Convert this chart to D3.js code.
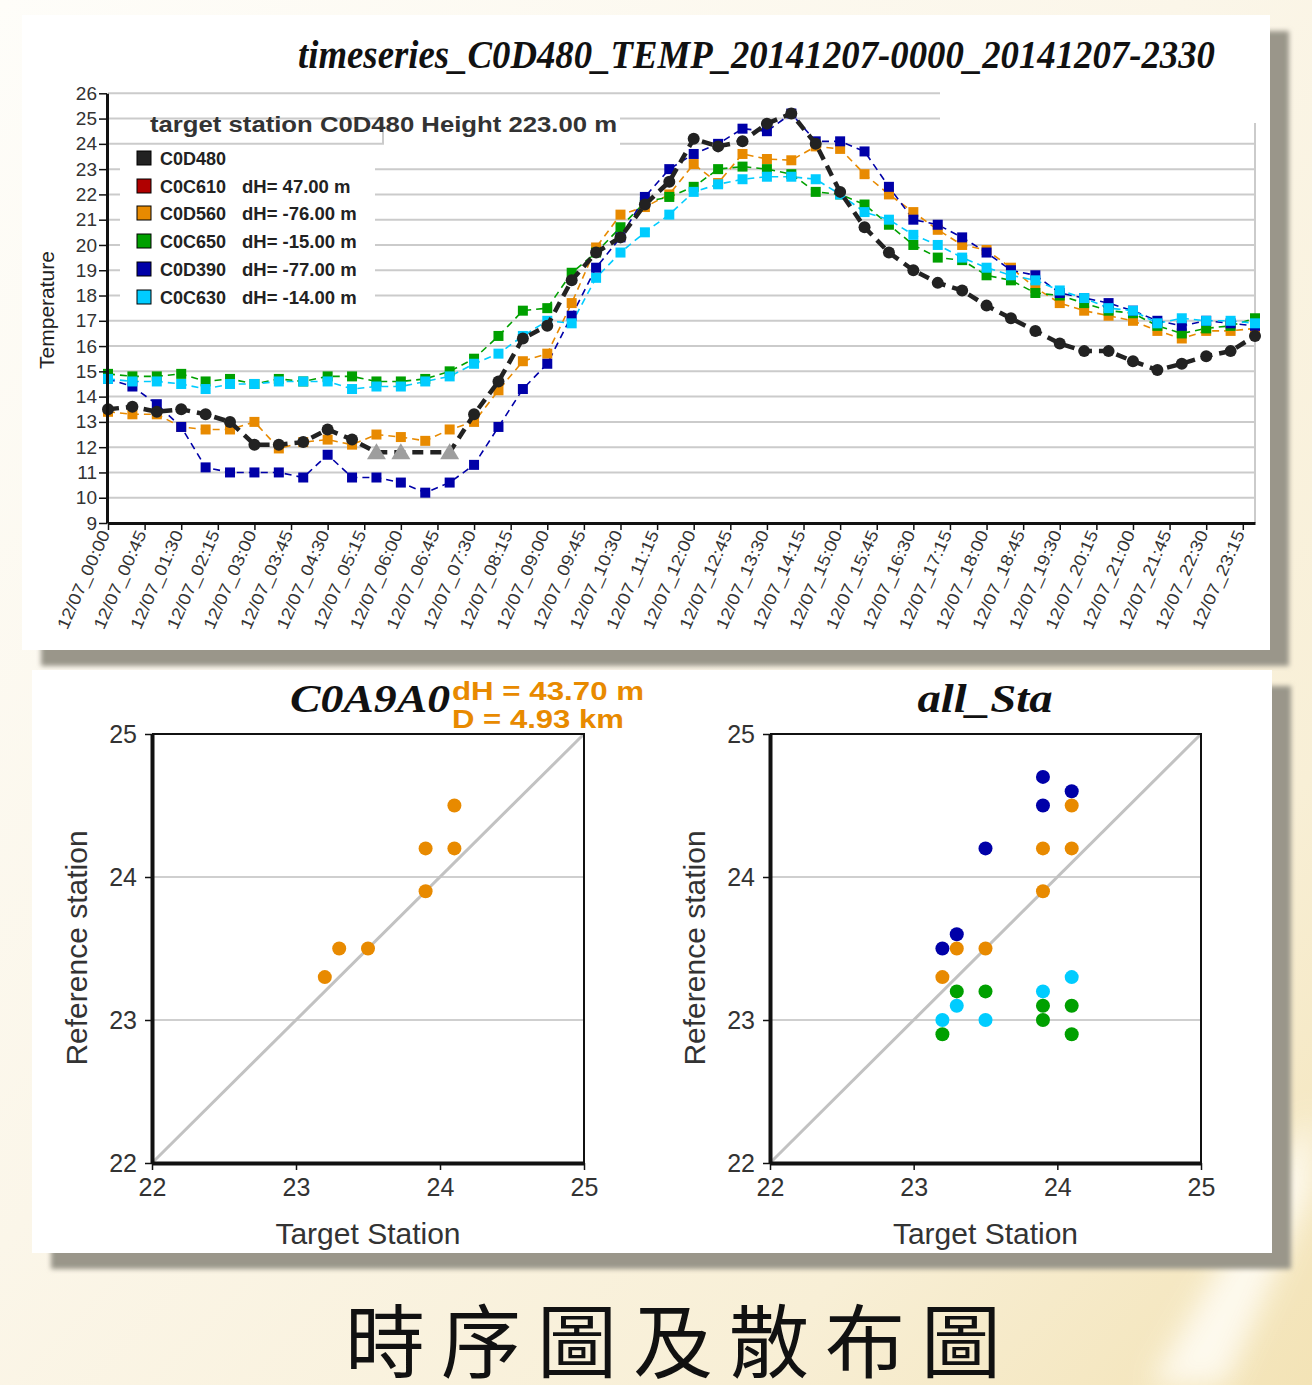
<!DOCTYPE html>
<html>
<head>
<meta charset="utf-8">
<script src="https://cdn.jsdelivr.net/npm/d3@7"></script>
<style>
  html, body { margin: 0; padding: 0; overflow: hidden; background: #fbf6e8; }
  svg { display: block; }
</style>
</head>
<body>
<svg id="chart" width="1312" height="1385"></svg>
<script>
// ---------- time series data (half-hourly, 2014-12-07) ----------
const times = ["00:00","00:30","01:00","01:30","02:00","02:30","03:00","03:30","04:00","04:30",
  "05:00","05:30","06:00","06:30","07:00","07:30","08:00","08:30","09:00","09:30",
  "10:00","10:30","11:00","11:30","12:00","12:30","13:00","13:30","14:00","14:30",
  "15:00","15:30","16:00","16:30","17:00","17:30","18:00","18:30","19:00","19:30",
  "20:00","20:30","21:00","21:30","22:00","22:30","23:00","23:30"];

const tickLabels = ["12/07_00:00","12/07_00:45","12/07_01:30","12/07_02:15","12/07_03:00","12/07_03:45",
  "12/07_04:30","12/07_05:15","12/07_06:00","12/07_06:45","12/07_07:30","12/07_08:15","12/07_09:00",
  "12/07_09:45","12/07_10:30","12/07_11:15","12/07_12:00","12/07_12:45","12/07_13:30","12/07_14:15",
  "12/07_15:00","12/07_15:45","12/07_16:30","12/07_17:15","12/07_18:00","12/07_18:45","12/07_19:30",
  "12/07_20:15","12/07_21:00","12/07_21:45","12/07_22:30","12/07_23:15"];

const tempTicks = [9,10,11,12,13,14,15,16,17,18,19,20,21,22,23,24,25,26];

const stationNames  = ["C0D480","C0C610","C0D560","C0C650","C0D390","C0C630"];
const stationDH     = ["","dH= 47.00 m","dH= -76.00 m","dH= -15.00 m","dH= -77.00 m","dH= -14.00 m"];
const stationColors = ["#222222","#b00000","#e88a00","#00a000","#0000a8","#00ccff"];

// target station
const C0D480 = [13.5,13.6,13.4,13.5,13.3,13.0,12.1,12.1,12.2,12.7,12.3,11.8,11.8,11.8,11.8,13.3,
  14.6,16.3,16.8,18.6,19.7,20.3,21.6,22.5,24.2,23.9,24.1,24.8,25.2,24.0,22.1,20.7,
  19.7,19.0,18.5,18.2,17.6,17.1,16.6,16.1,15.8,15.8,15.4,15.05,15.3,15.6,15.8,16.4];
// filled-in values of the target station (grey triangles) and a point with no marker
const C0D480Filled = [11,12,14];
const C0D480NoMark = [13];

const C0C610 = [];
const C0D560 = [13.4,13.3,13.3,12.8,12.7,12.7,13.0,11.95,12.2,12.3,12.1,12.5,12.4,12.25,12.7,13.0,
  14.25,15.4,15.7,17.7,19.9,21.2,21.5,22.0,23.2,22.45,23.6,23.4,23.35,23.9,23.8,22.8,
  22.0,21.3,20.6,20.0,19.8,19.1,18.3,17.7,17.4,17.2,17.0,16.6,16.3,16.6,16.6,16.7];
const C0C650 = [14.9,14.8,14.8,14.9,14.6,14.7,14.5,14.7,14.6,14.8,14.8,14.6,14.6,14.7,15.0,15.5,
  16.4,17.4,17.5,18.9,19.7,20.7,21.7,21.9,22.3,23.0,23.1,23.0,22.8,22.1,22.0,21.6,
  20.8,20.0,19.5,19.4,18.8,18.6,18.1,18.0,17.7,17.4,17.3,16.8,16.5,16.7,16.8,17.1];
const C0D390 = [14.7,14.4,13.7,12.8,11.2,11.0,11.0,11.0,10.8,11.7,10.8,10.8,10.6,10.2,10.6,11.3,
  12.8,14.3,15.3,17.2,19.1,20.3,21.9,23.0,23.6,24.0,24.6,24.5,25.2,24.1,24.1,23.7,
  22.3,21.0,20.8,20.3,19.7,19.0,18.8,18.1,17.9,17.7,17.4,17.0,16.8,17.0,16.9,16.8];
const C0C630 = [14.7,14.6,14.6,14.5,14.3,14.5,14.5,14.6,14.6,14.6,14.3,14.4,14.4,14.6,14.8,15.3,
  15.7,16.4,17.0,16.9,18.7,19.7,20.5,21.2,22.1,22.4,22.6,22.7,22.7,22.6,22.0,21.3,
  21.0,20.4,20.0,19.5,19.1,18.8,18.6,18.2,17.9,17.5,17.4,16.9,17.1,17.0,17.0,16.9];

// ---------- scatter data ----------
const scatterTicks = [22,23,24,25];
// C0A9A0 vs target
const c0a9a0Target = [23.2,23.3,23.5,23.9,23.9,24.1,24.1];
const c0a9a0Ref    = [23.3,23.5,23.5,23.9,24.2,24.2,24.5];
// all stations vs target
const allBlueX   = [23.2,23.3,23.5,23.9,23.9,24.1];
const allBlueY   = [23.5,23.6,24.2,24.7,24.5,24.6];
const allOrangeX = [23.2,23.3,23.5,23.9,23.9,24.1,24.1];
const allOrangeY = [23.3,23.5,23.5,23.9,24.2,24.2,24.5];
const allGreenX  = [23.2,23.3,23.5,23.9,23.9,24.1,24.1];
const allGreenY  = [22.9,23.2,23.2,23.1,23.0,23.1,22.9];
const allCyanX   = [23.2,23.3,23.5,23.9,24.1];
const allCyanY   = [23.0,23.1,23.0,23.2,23.3];

// ---------- page ----------
const W = 1312, H = 1385;
const svg = d3.select("#chart");
const defs = svg.append("defs");

const bg = defs.append("linearGradient").attr("id","bg")
  .attr("x1",0).attr("y1",0).attr("x2",1).attr("y2",1);
[["0","#fefdf9"],["0.45","#fbf6e9"],["0.78","#f8efd6"],["1","#f3e3b6"]]
  .forEach(s => bg.append("stop").attr("offset",s[0]).attr("stop-color",s[1]));
defs.append("filter").attr("id","shadowBlur")
  .attr("x","-5%").attr("y","-5%").attr("width","110%").attr("height","110%")
  .append("feGaussianBlur").attr("stdDeviation",2.5);
defs.append("filter").attr("id","rayBlur")
  .attr("x","-50%").attr("y","-50%").attr("width","200%").attr("height","200%")
  .append("feGaussianBlur").attr("stdDeviation",14);

svg.append("rect").attr("width",W).attr("height",H).attr("fill","url(#bg)");
svg.append("path").attr("d","M1312,1110 L1312,1190 L1225,1385 L1150,1385 Z")
  .attr("fill","#fffdf6").attr("opacity",0.85).attr("filter","url(#rayBlur)");

function panel(px, py, pw, ph) {
  svg.append("rect").attr("x",px+19).attr("y",py+16).attr("width",pw).attr("height",ph)
    .attr("fill","#9a968a").attr("filter","url(#shadowBlur)");
  svg.append("rect").attr("x",px).attr("y",py).attr("width",pw).attr("height",ph).attr("fill","#ffffff");
}
panel(22, 15, 1248, 635);
panel(32, 670, 1240, 583);

// ---------- time series chart ----------
const toMin = s => +s.slice(-5,-3) * 60 + +s.slice(-2);
const x = d3.scaleLinear().domain([0, 1410]).range([108, 1255]);
const y = d3.scaleLinear().domain([9, 26]).range([523, 93.3]);
const ts = svg.append("g");

ts.append("text").attr("x",298).attr("y",68)
  .attr("font-family","Liberation Serif").attr("font-weight","bold").attr("font-style","italic")
  .attr("font-size",40).attr("textLength",917).attr("lengthAdjust","spacingAndGlyphs").attr("fill","#111")
  .text("timeseries_C0D480_TEMP_20141207-0000_20141207-2330");

// horizontal grid
ts.append("g").selectAll("line").data(tempTicks.filter(t => t > 9)).join("line")
  .attr("x1", x(0)).attr("x2", d => d >= 25 ? 940 : x(1410))
  .attr("y1", d => y(d)).attr("y2", d => y(d))
  .attr("stroke","#cbcbcb").attr("stroke-width",2);
ts.append("line").attr("x1",1255).attr("x2",1255).attr("y1",123).attr("y2",y(9))
  .attr("stroke","#cbcbcb").attr("stroke-width",2);

// legend background and header
ts.append("rect").attr("x",384).attr("y",108).attr("width",236).attr("height",40).attr("fill","#fff");
ts.append("rect").attr("x",120).attr("y",146).attr("width",255).attr("height",166).attr("fill","#fff");
ts.append("line").attr("x1",383).attr("x2",383).attr("y1",y(25)).attr("y2",y(24))
  .attr("stroke","#cbcbcb").attr("stroke-width",2);
ts.append("text").attr("x",150).attr("y",132)
  .attr("font-family","Liberation Sans").attr("font-weight","bold").attr("font-size",22)
  .attr("textLength",467).attr("lengthAdjust","spacingAndGlyphs").attr("fill","#333")
  .text("target station C0D480 Height 223.00 m");

const legendY = [158,186,213,241,269,297];
stationNames.forEach((n, i) => {
  ts.append("rect").attr("x",137).attr("y",legendY[i]-7).attr("width",14).attr("height",14)
    .attr("fill",stationColors[i]).attr("stroke","#000").attr("stroke-width",1);
  ts.append("text").attr("x",160).attr("y",legendY[i]+6.5)
    .attr("font-family","Liberation Sans").attr("font-weight","bold").attr("font-size",18)
    .attr("fill","#222").text(n);
  if (stationDH[i]) ts.append("text").attr("x",242).attr("y",legendY[i]+6.5)
    .attr("font-family","Liberation Sans").attr("font-weight","bold").attr("font-size",18.5)
    .attr("fill","#222").text(stationDH[i]);
});

// series
const mins = times.map(toMin);
const line = d3.line().defined(d => d.v != null).x(d => x(d.m)).y(d => y(d.v));
const seriesOf = vals => vals.map((v, i) => ({m: mins[i], v: v, i: i}));

const coloured = [
  {vals: C0C610, color: stationColors[1]},
  {vals: C0D560, color: stationColors[2]},
  {vals: C0C650, color: stationColors[3]},
  {vals: C0D390, color: stationColors[4]},
  {vals: C0C630, color: stationColors[5]}
];
coloured.forEach(s => {
  const d = seriesOf(s.vals);
  if (!d.length) return;
  ts.append("path").datum(d).attr("d", line).attr("fill","none")
    .attr("stroke", s.color).attr("stroke-width",1.6).attr("stroke-dasharray","7,5");
});
coloured.forEach(s => {
  ts.append("g").selectAll("rect").data(seriesOf(s.vals)).join("rect")
    .attr("x", d => x(d.m) - 5).attr("y", d => y(d.v) - 5)
    .attr("width",10).attr("height",10).attr("fill", s.color);
});

const target = seriesOf(C0D480);
ts.append("path").datum(target).attr("d", line).attr("fill","none")
  .attr("stroke","#222").attr("stroke-width",4.5).attr("stroke-dasharray","11,7");
ts.append("g").selectAll("circle")
  .data(target.filter(d => !C0D480Filled.includes(d.i) && !C0D480NoMark.includes(d.i)))
  .join("circle").attr("cx", d => x(d.m)).attr("cy", d => y(d.v)).attr("r",6).attr("fill","#222");
ts.append("g").selectAll("path")
  .data(target.filter(d => C0D480Filled.includes(d.i)))
  .join("path")
  .attr("d", d => { const cx = x(d.m), cy = y(d.v);
    return `M${cx},${cy-9}L${cx+9.5},${cy+7}L${cx-9.5},${cy+7}Z`; })
  .attr("fill","#9e9e9e");

// axes
const yAxis = ts.append("g").attr("transform","translate(107,0)")
  .call(d3.axisLeft(y).tickValues(tempTicks).tickSize(8).tickSizeOuter(0).tickPadding(2));
yAxis.select(".domain").attr("stroke","#111").attr("stroke-width",3);
yAxis.selectAll(".tick line").attr("stroke","#111").attr("stroke-width",1.5);
yAxis.selectAll("text").attr("font-family","Liberation Sans").attr("font-size",19).attr("fill","#333");

const xAxis = ts.append("g").attr("transform",`translate(0,${y(9)})`)
  .call(d3.axisBottom(x).tickValues(tickLabels.map(toMin))
    .tickFormat((d, i) => tickLabels[i]).tickSize(7).tickSizeOuter(0));
xAxis.select(".domain").attr("stroke","#111").attr("stroke-width",3);
xAxis.selectAll(".tick line").attr("stroke","#111").attr("stroke-width",1.5);
xAxis.selectAll("text")
  .attr("transform","rotate(-66)").attr("text-anchor","end")
  .attr("x",-9).attr("y",0).attr("dy","0.35em")
  .attr("font-family","Liberation Sans").attr("font-size",17)
  .attr("textLength",106).attr("lengthAdjust","spacingAndGlyphs").attr("fill","#333");

ts.append("text").attr("transform","translate(54,310) rotate(-90)").attr("text-anchor","middle")
  .attr("font-family","Liberation Sans").attr("font-size",21).attr("fill","#222").text("Temperature");

// ---------- scatter plots ----------
function scatter(x0, x1, groups) {
  const g = svg.append("g");
  const xs = d3.scaleLinear().domain([22,25]).range([x0, x1]);
  const ys = d3.scaleLinear().domain([22,25]).range([1163, 734]);
  g.append("g").selectAll("line").data([23,24]).join("line")
    .attr("x1", xs(22)).attr("x2", xs(25)).attr("y1", d => ys(d)).attr("y2", d => ys(d))
    .attr("stroke","#cfcfcf").attr("stroke-width",2);
  g.append("line").attr("x1", xs(22)).attr("y1", ys(22)).attr("x2", xs(25)).attr("y2", ys(25))
    .attr("stroke","#c2c2c2").attr("stroke-width",3);
  g.append("path").attr("d", `M${xs(22)},${ys(25)}H${xs(25)}V${ys(22)}`)
    .attr("fill","none").attr("stroke","#111").attr("stroke-width",2);
  groups.forEach(gr => {
    g.append("g").selectAll("circle").data(gr.xs.map((v, i) => [v, gr.ys[i]])).join("circle")
      .attr("cx", d => xs(d[0])).attr("cy", d => ys(d[1])).attr("r",7).attr("fill", gr.color);
  });
  const fmt = d3.format("d");
  const ax = g.append("g").attr("transform",`translate(${x0},0)`)
    .call(d3.axisLeft(ys).tickValues(scatterTicks).tickFormat(fmt).tickSize(7).tickSizeOuter(0).tickPadding(8));
  const bx = g.append("g").attr("transform","translate(0,1163)")
    .call(d3.axisBottom(xs).tickValues(scatterTicks).tickFormat(fmt).tickSize(7).tickSizeOuter(0).tickPadding(8));
  [ax, bx].forEach(a => {
    a.select(".domain").attr("stroke","#111").attr("stroke-width",4);
    a.selectAll(".tick line").attr("stroke","#111").attr("stroke-width",1.5);
    a.selectAll("text").attr("font-family","Liberation Sans").attr("font-size",25).attr("fill","#333");
  });
  g.append("text").attr("x",(x0 + x1) / 2).attr("y",1244).attr("text-anchor","middle")
    .attr("font-family","Liberation Sans").attr("font-size",30).attr("fill","#333").text("Target Station");
  g.append("text").attr("transform",`translate(${x0 - 65},948) rotate(-90)`).attr("text-anchor","middle")
    .attr("font-family","Liberation Sans").attr("font-size",30).attr("fill","#333").text("Reference station");
  return g;
}

const left = scatter(152, 584, [{xs: c0a9a0Target, ys: c0a9a0Ref, color: stationColors[2]}]);
left.append("text").attr("x",290).attr("y",712)
  .attr("font-family","Liberation Serif").attr("font-weight","bold").attr("font-style","italic")
  .attr("font-size",40).attr("textLength",160).attr("lengthAdjust","spacingAndGlyphs").attr("fill","#111")
  .text("C0A9A0");
left.append("text").attr("x",452).attr("y",700)
  .attr("font-family","Liberation Sans").attr("font-weight","bold").attr("font-size",26)
  .attr("textLength",192).attr("lengthAdjust","spacingAndGlyphs").attr("fill","#e88a00").text("dH = 43.70 m");
left.append("text").attr("x",452).attr("y",728)
  .attr("font-family","Liberation Sans").attr("font-weight","bold").attr("font-size",26)
  .attr("textLength",172).attr("lengthAdjust","spacingAndGlyphs").attr("fill","#e88a00").text("D = 4.93 km");

const right = scatter(770, 1201, [
  {xs: allCyanX, ys: allCyanY, color: stationColors[5]},
  {xs: allGreenX, ys: allGreenY, color: stationColors[3]},
  {xs: allOrangeX, ys: allOrangeY, color: stationColors[2]},
  {xs: allBlueX, ys: allBlueY, color: stationColors[4]}
]);
right.append("text").attr("x",985).attr("y",712).attr("text-anchor","middle")
  .attr("font-family","Liberation Serif").attr("font-weight","bold").attr("font-style","italic")
  .attr("font-size",40).attr("textLength",135).attr("lengthAdjust","spacingAndGlyphs").attr("fill","#111")
  .text("all_Sta");

// ---------- caption ----------
svg.append("text").attr("x",345).attr("y",1371)
  .attr("font-family","Noto Sans CJK TC").attr("font-size",80).attr("letter-spacing",16)
  .attr("fill","#111").text("時序圖及散布圖");
</script>
</body>
</html>
